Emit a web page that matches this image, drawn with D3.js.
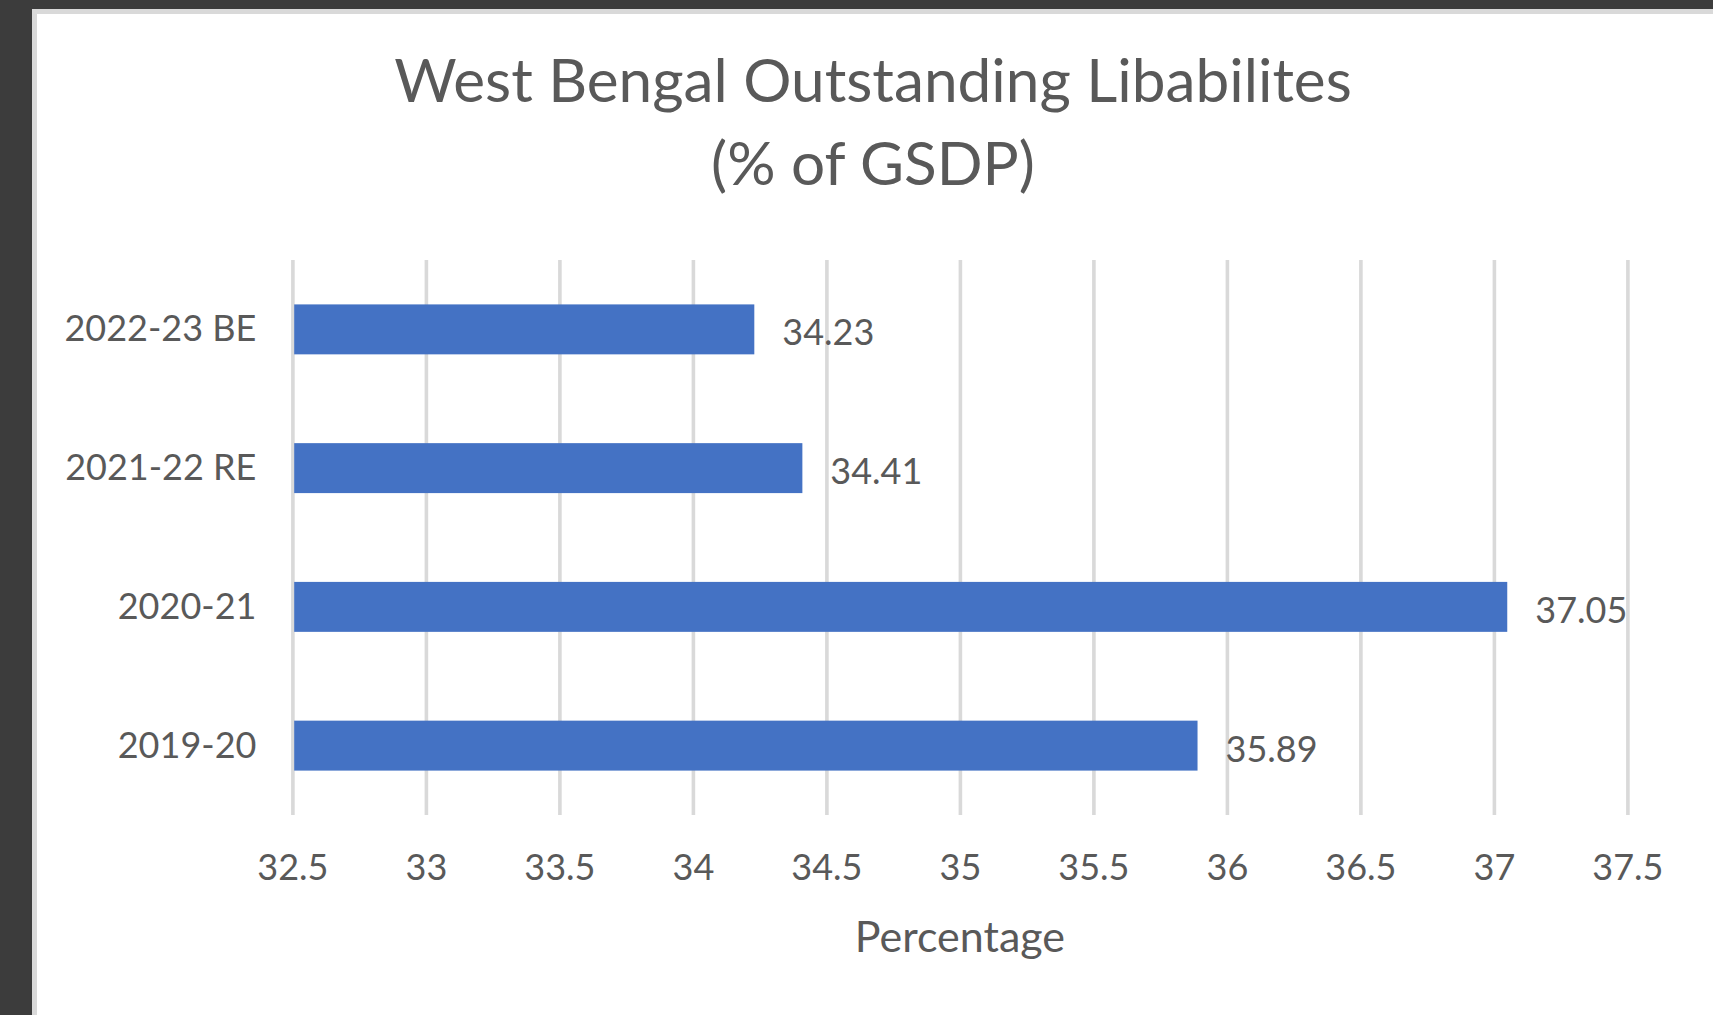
<!DOCTYPE html>
<html>
<head>
<meta charset="utf-8">
<title>West Bengal Outstanding Libabilites</title>
<script src="https://cdn.jsdelivr.net/npm/d3@7"></script>
<style>
  html, body { margin: 0; padding: 0; background: #3c3c3c; overflow: hidden; }
  svg { display: block; }
  text { font-family: Lato, "Open Sans", sans-serif; fill: #595959; }
</style>
</head>
<body>
<svg id="chart" width="1713" height="1015"></svg>
<script>
// Outstanding liabilities of West Bengal, % of GSDP
const categories = ["2019-20", "2020-21", "2021-22 RE", "2022-23 BE"];
const values = [35.89, 37.05, 34.41, 34.23];
const tickValues = [32.5, 33, 33.5, 34, 34.5, 35, 35.5, 36, 36.5, 37, 37.5];
const tickLabels = ["32.5", "33", "33.5", "34", "34.5", "35", "35.5", "36", "36.5", "37", "37.5"];
const titleLines = ["West Bengal Outstanding Libabilites", "(% of GSDP)"];
const axisTitle = "Percentage";

const W = 1713, H = 1015;
const svg = d3.select("#chart");

// chart area: white panel with a light border, running past the right and bottom edges
svg.append("rect")
  .attr("x", 34.5).attr("y", 11.5)
  .attr("width", W + 40).attr("height", H + 40)
  .attr("fill", "#ffffff")
  .attr("stroke", "#d9d9d9")
  .attr("stroke-width", 5);

const plot = { left: 292.4, right: 1627.4, top: 260, bottom: 815 };

const x = d3.scaleLinear()
  .domain([tickValues[0], tickValues[tickValues.length - 1]])
  .range([plot.left, plot.right]);

// first category sits at the bottom
const y = d3.scaleBand()
  .domain(categories.slice().reverse())
  .range([plot.top, plot.bottom])
  .paddingInner(0.64)
  .paddingOuter(0.32);

// vertical gridlines
const xAxis = d3.axisBottom(x)
  .tickValues(tickValues)
  .tickSize(plot.bottom - plot.top)
  .tickFormat((d, i) => tickLabels[i]);

const gx = svg.append("g")
  .attr("transform", `translate(0,${plot.top})`)
  .call(xAxis);
gx.select(".domain").remove();
gx.selectAll(".tick line")
  .attr("stroke", "#d9d9d9")
  .attr("stroke-width", 3.6);
gx.selectAll(".tick text")
  .attr("y", plot.bottom - plot.top + 65)
  .attr("dy", 0)
  .attr("font-size", 36)
  .attr("fill", "#595959")
  .style("font-family", "Lato, 'Open Sans', sans-serif");

// bars
const data = categories.map((c, i) => ({ c, v: values[i] }));
svg.append("g").selectAll("rect")
  .data(data)
  .join("rect")
  .attr("x", x(tickValues[0]) + 1.8)
  .attr("y", d => y(d.c))
  .attr("width", d => x(d.v) - x(tickValues[0]) - 1.8)
  .attr("height", y.bandwidth())
  .attr("fill", "#4472c4");

// value labels
svg.append("g").selectAll("text")
  .data(data)
  .join("text")
  .attr("x", d => x(d.v) + 28)
  .attr("y", d => y(d.c) + y.bandwidth() / 2 + 16)
  .attr("font-size", 36)
  .text(d => d.v.toFixed(2));

// category labels
const yAxis = d3.axisLeft(y).tickSize(0).tickPadding(0);
const gy = svg.append("g")
  .attr("transform", `translate(${plot.left - 36},0)`)
  .call(yAxis);
gy.select(".domain").remove();
gy.selectAll(".tick text")
  .attr("dy", 0)
  .attr("y", 12)
  .attr("font-size", 36)
  .attr("fill", "#595959")
  .style("font-family", "Lato, 'Open Sans', sans-serif");

// title
const cx = 873;
svg.append("g").selectAll("text")
  .data(titleLines)
  .join("text")
  .attr("x", cx)
  .attr("y", (d, i) => 102 + i * 83)
  .attr("text-anchor", "middle")
  .attr("font-size", 60.3)
  .text(d => d);

// axis title
svg.append("text")
  .attr("x", (plot.left + plot.right) / 2)
  .attr("y", 952)
  .attr("text-anchor", "middle")
  .attr("font-size", 43)
  .text(axisTitle);
</script>
</body>
</html>
